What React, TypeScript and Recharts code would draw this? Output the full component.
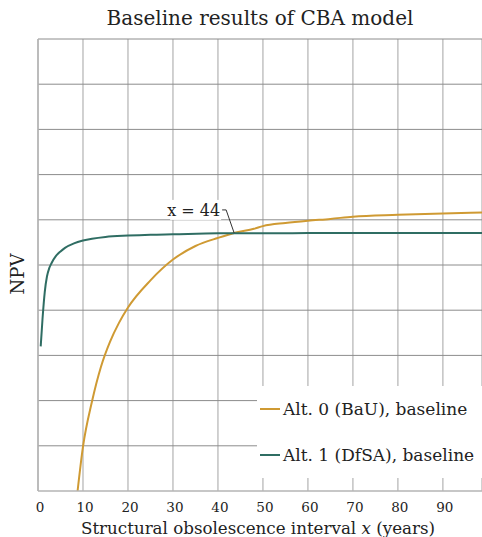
import React from 'react';
import { LineChart, Line, XAxis, YAxis, CartesianGrid, ReferenceDot, ReferenceLine } from 'recharts';

// NPV, in units of one grid step (no values on the y axis)
const bauYears = [8.8, 10, 12, 14, 16, 18, 20, 25, 30, 35, 40, 44, 48, 50, 55, 60, 65, 70, 80, 90, 98.7];
const bauNpv = [0, 0.98, 1.98, 2.75, 3.3, 3.72, 4.06, 4.66, 5.12, 5.42, 5.6, 5.72, 5.8, 5.86, 5.93, 5.98, 6.02, 6.07, 6.11, 6.14, 6.16];

const dfsaYears = [0.6, 1, 1.5, 2, 2.5, 3, 4, 5, 6, 8, 10, 12, 15, 20, 25, 30, 40, 50, 60, 80, 98.7];
const dfsaNpv = [3.2, 3.8, 4.4, 4.75, 4.93, 5.04, 5.2, 5.3, 5.38, 5.48, 5.54, 5.58, 5.62, 5.65, 5.67, 5.68, 5.7, 5.7, 5.71, 5.71, 5.71];

const xTicks = [0, 10, 20, 30, 40, 50, 60, 70, 80, 90];
const yTicks = [1, 2, 3, 4, 5, 6, 7, 8, 9, 10];

const seriesNames = ['Alt. 0 (BaU), baseline', 'Alt. 1 (DfSA), baseline'];
const breakEven = { x: 43.6, npv: 5.71, label: 'x = 44' };

const bauData = bauYears.map((x, i) => ({ x, npv: bauNpv[i] }));
const dfsaData = dfsaYears.map((x, i) => ({ x, npv: dfsaNpv[i] }));

const ORANGE = '#cf9a33';
const GREEN = '#2f6d63';
const FONT = '"DejaVu Serif", serif';

const LegendBox = () => (
  <div style={{ position: 'absolute', left: 257, top: 386, background: '#fff', width: 225, height: 92, fontFamily: FONT, fontSize: 17, color: '#222' }}>
    {[ORANGE, GREEN].map((c, i) => (
      <div key={i} style={{ display: 'flex', alignItems: 'center', height: 46 }}>
        <span style={{ display: 'inline-block', width: 20, height: 2, background: c, marginLeft: 3, marginRight: 3 }} />
        {seriesNames[i]}
      </div>
    ))}
  </div>
);

const Marker = ({ cx, cy }: any) => (
  <g>
    <polyline points={`${cx},${cy} ${cx - 8},${cy - 23} ${cx - 12},${cy - 23}`} fill="none" stroke="#333" strokeWidth={1} />
    <rect x={cx - 64} y={cy - 33} width={51} height={20} fill="#fff" />
    <text x={cx - 14} y={cy - 17} textAnchor="end" fontFamily={FONT} fontSize={16} fill="#222">
      {breakEven.label}
    </text>
  </g>
);

const XLabel = ({ viewBox }: any) => (
  <text x={viewBox.x + viewBox.width / 2 - 2} y={534} textAnchor="middle" fontFamily={FONT} fontSize={16.7} fill="#222">
    Structural obsolescence interval <tspan fontStyle="italic">x</tspan> (years)
  </text>
);

const YLabel = () => (
  <text x={24} y={274} transform="rotate(-90 24 274)" textAnchor="middle" fontFamily={FONT} fontSize={18} fill="#222">
    NPV
  </text>
);

export default function App() {
  return (
    <div style={{ position: 'absolute', left: 0, top: 0, width: 482, height: 537, background: '#fff' }}>
      <div style={{ position: 'absolute', left: 38, width: 444, top: 6, textAlign: 'center', fontFamily: FONT, fontSize: 20, color: '#222' }}>
        Baseline results of CBA model
      </div>
      <LineChart width={482} height={537} margin={{ top: 39, right: 0, bottom: 0, left: 0 }}>
        <CartesianGrid horizontal={false} stroke="#c2c2c2" strokeWidth={1.5} />
        {yTicks.map((v) => (
          <ReferenceLine key={v} y={v} stroke="#8c8c8c" strokeWidth={1} />
        ))}
        <XAxis
          type="number"
          dataKey="x"
          domain={[0, 98.7]}
          ticks={xTicks}
          allowDataOverflow
          height={46}
          tickLine={false}
          tickSize={0}
          tickMargin={11}
          axisLine={{ stroke: '#b5b5b5', strokeWidth: 1.5 }}
          tick={{ fontFamily: FONT, fontSize: 13.5, fill: '#222', dx: 2 }}
          label={<XLabel />}
        />
        <YAxis
          type="number"
          domain={[0, 10]}
          ticks={yTicks}
          width={38}
          tick={false}
          tickLine={false}
          axisLine={{ stroke: '#b5b5b5', strokeWidth: 1.5 }}
          label={<YLabel />}
        />
        <Line data={bauData} dataKey="npv" name={seriesNames[0]} type="monotone" stroke={ORANGE} strokeWidth={2} dot={false} isAnimationActive={false} />
        <Line data={dfsaData} dataKey="npv" name={seriesNames[1]} type="monotone" stroke={GREEN} strokeWidth={2} dot={false} isAnimationActive={false} />
        <ReferenceDot x={breakEven.x} y={breakEven.npv} shape={<Marker />} />
      </LineChart>
      <LegendBox />
    </div>
  );
}
